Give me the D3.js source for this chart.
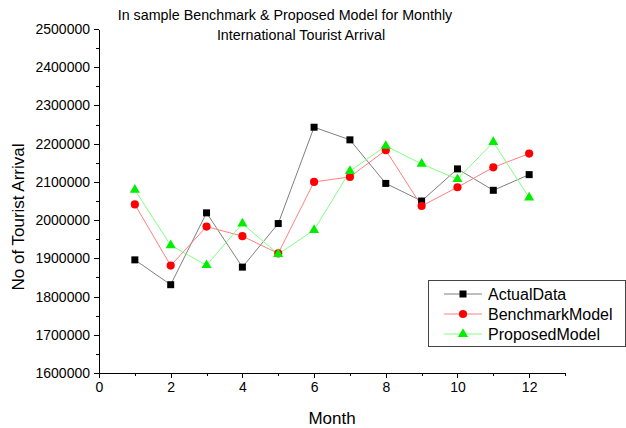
<!DOCTYPE html>
<html>
<head>
<meta charset="utf-8">
<script src="https://cdn.jsdelivr.net/npm/d3@7"></script>
<style>
  body { margin: 0; background: #fff; }
  svg { display: block; font-family: Arial, "Liberation Sans", sans-serif; }
  .axis path, .axis line { stroke: #000; shape-rendering: crispEdges; }
  .axis text { font-size: 14px; fill: #000; }
</style>
</head>
<body>
<svg width="626" height="428"></svg>
<script>
// data
var months = [1, 2, 3, 4, 5, 6, 7, 8, 9, 10, 11, 12];
var actualData = [1896000, 1831000, 2019000, 1877000, 1991000, 2243000, 2210000, 2096000, 2050000, 2134000, 2078000, 2119000];
var benchmarkModel = [2041000, 1881000, 1983000, 1958000, 1913000, 2100000, 2113000, 2183000, 2037000, 2086000, 2138000, 2174000];
var proposedModel = [2079000, 1934000, 1882000, 1991000, 1911000, 1974000, 2128000, 2194000, 2147000, 2107000, 2204000, 2059000];
var xTicks = [0, 2, 4, 6, 8, 10, 12];
var yTicks = [1600000, 1700000, 1800000, 1900000, 2000000, 2100000, 2200000, 2300000, 2400000, 2500000];
var seriesNames = ["ActualData", "BenchmarkModel", "ProposedModel"];

var svg = d3.select("svg");

var x = d3.scaleLinear().domain([0, 13]).range([99, 565]);
var y = d3.scaleLinear().domain([1600000, 2500000]).range([373, 29]);

// minor ticks first
svg.append("g")
  .attr("class", "axis")
  .attr("transform", "translate(0,373)")
  .call(d3.axisBottom(x).tickValues(d3.range(1, 14, 2)).tickSize(3).tickFormat(""))
  .select(".domain").remove();
svg.append("g")
  .attr("class", "axis")
  .attr("transform", "translate(99,0)")
  .call(d3.axisLeft(y).tickValues(d3.range(1650000, 2500000, 100000)).tickSize(3).tickFormat(""))
  .select(".domain").remove();

// x axis
svg.append("g")
  .attr("class", "axis")
  .attr("transform", "translate(0,373)")
  .call(d3.axisBottom(x).tickValues(xTicks).tickSize(5).tickSizeOuter(0).tickPadding(4));

// y axis
svg.append("g")
  .attr("class", "axis")
  .attr("transform", "translate(99,0)")
  .call(d3.axisLeft(y).tickValues(yTicks).tickSize(5).tickSizeOuter(0).tickPadding(4).tickFormat(d3.format("d")));

// axis titles
svg.append("text")
  .attr("x", 332).attr("y", 424)
  .attr("text-anchor", "middle")
  .style("font-size", "17px")
  .text("Month");
svg.append("text")
  .attr("transform", "translate(24,217) rotate(-90)")
  .attr("text-anchor", "middle")
  .style("font-size", "17px")
  .text("No of Tourist Arrival");

// title
svg.append("text")
  .attr("x", 285).attr("y", 20)
  .attr("text-anchor", "middle")
  .style("font-size", "14.3px")
  .text("In sample Benchmark & Proposed Model for Monthly");
svg.append("text")
  .attr("x", 301).attr("y", 40)
  .attr("text-anchor", "middle")
  .style("font-size", "14.3px")
  .text("International Tourist Arrival");

var series = [
  { name: seriesNames[0], values: actualData, line: "#7f7f7f", fill: "#000", symbol: d3.symbolSquare, size: 49 },
  { name: seriesNames[1], values: benchmarkModel, line: "#ff8080", fill: "#ff0000", symbol: d3.symbolCircle, size: 52 },
  { name: seriesNames[2], values: proposedModel, line: "#80ff80", fill: "#00ee00", symbol: d3.symbolTriangle, size: 44 }
];

var line = d3.line()
  .x(function (d, i) { return x(months[i]); })
  .y(function (d) { return y(d); });

series.forEach(function (s) {
  svg.append("path")
    .datum(s.values)
    .attr("fill", "none")
    .attr("stroke", s.line)
    .attr("stroke-width", 1)
    .attr("d", line);
});

series.forEach(function (s) {
  svg.selectAll(null)
    .data(s.values)
    .enter().append("path")
    .attr("transform", function (d, i) { return "translate(" + x(months[i]) + "," + y(d) + ")"; })
    .attr("d", d3.symbol().type(s.symbol).size(s.size))
    .attr("fill", s.fill);
});

// legend
var legend = svg.append("g");
legend.append("rect")
  .attr("x", 428.5).attr("y", 280.5)
  .attr("width", 197).attr("height", 66)
  .attr("fill", "#fff")
  .attr("stroke", "#444");

series.forEach(function (s, i) {
  var ly = 294 + i * 20;
  legend.append("line")
    .attr("x1", 444).attr("x2", 482)
    .attr("y1", ly).attr("y2", ly)
    .attr("stroke", s.line);
  legend.append("path")
    .attr("transform", "translate(463," + ly + ")")
    .attr("d", d3.symbol().type(s.symbol).size(s.size))
    .attr("fill", s.fill);
  legend.append("text")
    .attr("x", 488).attr("y", ly + 6)
    .style("font-size", "16px")
    .text(s.name);
});
</script>
</body>
</html>
